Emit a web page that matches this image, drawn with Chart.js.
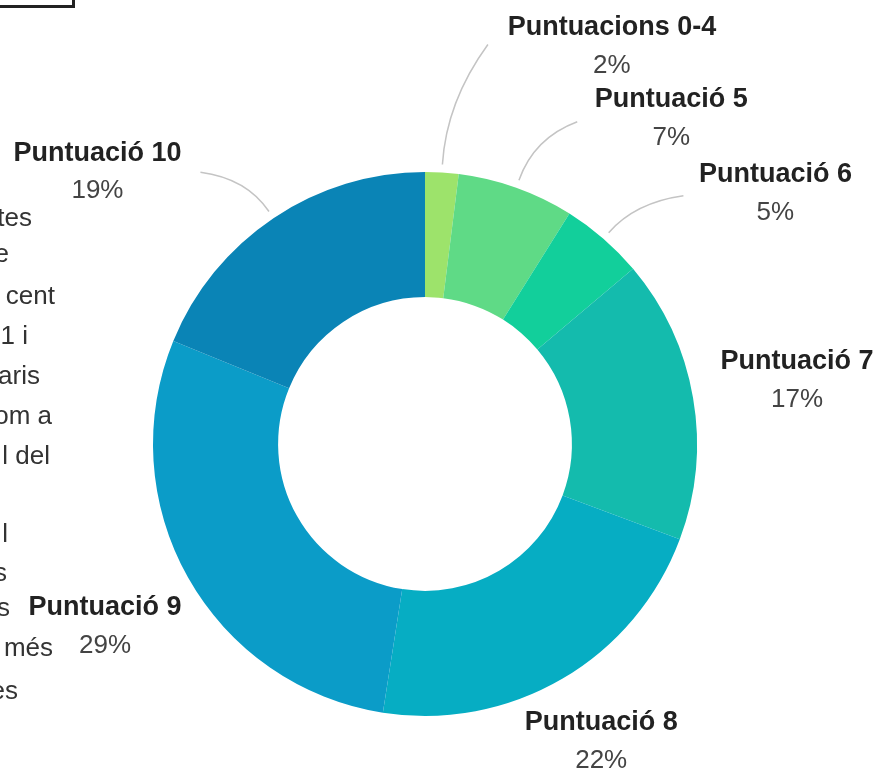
<!DOCTYPE html>
<html>
<head>
<meta charset="utf-8">
<script src="https://cdn.jsdelivr.net/npm/chart.js@4.4.0/dist/chart.umd.min.js"></script>
<style>
	body { margin: 0; background: #fff; overflow: hidden; }
	#wrap { position: relative; width: 887px; height: 776px; overflow: hidden; }
	#box { position: absolute; left: -10px; top: -20px; width: 79px; height: 22px; border: 3px solid #222; }
	.frag { position: absolute; font: 26px "Liberation Sans", Arial, sans-serif; color: #333; white-space: pre; line-height: 30px; }
</style>
</head>
<body>
<div id="wrap">
	<div id="box"></div>
	<canvas id="scores" width="887" height="776"></canvas>
</div>
<script>
"use strict";

const categories = ['Puntuacions 0-4', 'Puntuació 5', 'Puntuació 6', 'Puntuació 7', 'Puntuació 8', 'Puntuació 9', 'Puntuació 10'];
const values = [2, 7, 5, 17, 22, 29, 19];
const colors = ['#9de36b', '#5fda86', '#12cf9b', '#14bbad', '#06adc3', '#0b9cc8', '#0a84b6'];

// label centre, relative to the outer midpoint of its slice
const labelOffsets = [[170, -145], [155, -88], [172, -64], [104, -36], [39, 44], [-83, 30], [-176, -65]];
// leader line: [radial length of the bend, end x / y relative to the label centre]
const leaders = [[63, -124, 17], [45, -94, 22], [40, -92, 21], null, null, null, [40, 103, 19]];

// tail ends of the paragraph running off the left edge
const sideText = [
	['tes', 32, 217], ['e', 9, 253], ['cent', 55, 295], ['1 i', 28, 335], ['aris', 40, 375],
	['om a', 52, 415], ['l del', 50, 455], ['l', 8, 533], ['s', 7, 572], ['s', 10, 607],
	['més', 53, 647], ['es', 18, 690]
];

const wrap = document.getElementById('wrap');
sideText.forEach(function(t) {
	const el = document.createElement('div');
	el.className = 'frag';
	el.textContent = t[0];
	el.style.right = (887 - t[1]) + 'px';
	el.style.top = (t[2] - 15) + 'px';
	wrap.appendChild(el);
});

const sliceLabels = {
	id: 'sliceLabels',
	afterDatasetsDraw(chart) {
		const ctx = chart.ctx;
		const meta = chart.getDatasetMeta(0);
		ctx.save();
		meta.data.forEach(function(arc, i) {
			const p = arc.getProps(['x', 'y', 'startAngle', 'endAngle', 'outerRadius'], true);
			const mid = (p.startAngle + p.endAngle) / 2;
			const cos = Math.cos(mid), sin = Math.sin(mid);
			const lx = p.x + cos * p.outerRadius + labelOffsets[i][0];
			const ly = p.y + sin * p.outerRadius + labelOffsets[i][1];

			const lead = leaders[i];
			if (lead) {
				const sx = p.x + cos * (p.outerRadius + 8);
				const sy = p.y + sin * (p.outerRadius + 8);
				ctx.beginPath();
				ctx.moveTo(sx, sy);
				ctx.quadraticCurveTo(sx + cos * lead[0], sy + sin * lead[0], lx + lead[1], ly + lead[2]);
				ctx.strokeStyle = '#c4c4c4';
				ctx.lineWidth = 1.5;
				ctx.stroke();
			}

			ctx.textAlign = 'center';
			ctx.textBaseline = 'middle';
			ctx.font = 'bold 27px "Liberation Sans", Arial, sans-serif';
			ctx.fillStyle = '#222';
			ctx.fillText(categories[i], lx, ly);
			ctx.font = '26px "Liberation Sans", Arial, sans-serif';
			ctx.fillStyle = '#444';
			ctx.fillText(values[i] + '%', lx, ly + 38);
		});
		ctx.restore();
	}
};

new Chart(document.getElementById('scores'), {
	type: 'doughnut',
	data: {
		labels: categories,
		datasets: [{
			data: values,
			backgroundColor: colors,
			borderWidth: 0,
			hoverOffset: 0,
		}]
	},
	options: {
		responsive: false,
		animation: false,
		events: [],
		cutout: '54%',
		layout: {
			padding: { top: 172, bottom: 60, left: 153, right: 190 },
		},
		plugins: {
			legend: { display: false },
			tooltip: { enabled: false },
		}
	},
	plugins: [sliceLabels]
});
</script>
</body>
</html>
